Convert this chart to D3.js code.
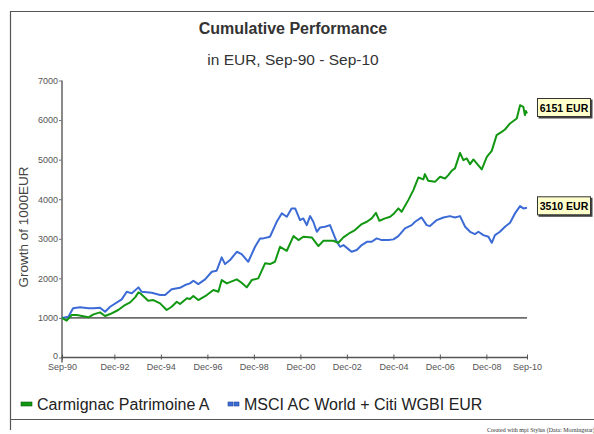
<!DOCTYPE html>
<html>
<head>
<meta charset="utf-8">
<script src="https://cdn.jsdelivr.net/npm/d3@7"></script>
<style>
  body { margin: 0; background: #fff; }
  svg { display: block; font-family: "Liberation Sans", Arial, sans-serif; }
</style>
</head>
<body>
<svg id="chart" width="594" height="434"></svg>
<script>
// series data
const fundDates = ["1990-09-30","1990-12-12","1991-03-01","1991-05-19","1991-11-19","1992-02-07","1992-05-19","1992-08-07","1992-10-25","1993-03-01","1993-06-15","1993-09-04","1993-11-22","1994-01-13","1994-02-10","1994-06-15","1994-09-04","1994-12-19","1995-04-01","1995-06-19","1995-09-07","1995-10-28","1996-02-13","1996-04-01","1996-05-25","1996-08-10","1996-12-22","1997-04-04","1997-06-22","1997-08-13","1997-11-01","1998-04-07","1998-06-22","1998-09-10","1998-11-28","1999-03-10","1999-06-25","1999-09-10","1999-11-28","2000-02-15","2000-06-01","2000-09-13","2000-12-01","2001-02-15","2001-06-28","2001-10-10","2001-12-28","2002-06-01","2002-08-19","2002-11-07","2003-02-19","2003-05-07","2003-08-22","2003-11-10","2004-01-25","2004-04-01","2004-05-25","2004-08-22","2004-11-10","2005-01-01","2005-03-19","2005-05-10","2005-08-22","2005-11-10","2006-01-28","2006-04-15","2006-05-10","2006-07-01","2006-10-15","2007-01-04","2007-03-22","2007-05-13","2007-07-04","2007-08-25","2007-11-13","2008-01-04","2008-02-28","2008-04-19","2008-06-10","2008-08-01","2008-10-19","2009-01-07","2009-03-25","2009-06-10","2009-08-28","2009-10-19","2010-01-07","2010-04-22","2010-06-13","2010-08-04","2010-08-28","2010-09-12","2010-09-30"];
const fundValues = [1000,930,1073,1073,1015,1090,1141,1048,1098,1200,1326,1394,1520,1646,1621,1434,1452,1369,1200,1283,1409,1351,1495,1477,1553,1452,1578,1705,1662,1957,1873,1975,1890,1772,1957,2000,2379,2361,2419,2798,2697,3068,2967,3051,3035,2816,2950,2950,2899,3035,3152,3220,3371,3430,3515,3657,3455,3515,3556,3624,3768,3682,3977,4230,4550,4500,4634,4465,4439,4566,4525,4608,4718,4778,5172,4987,5030,4886,5005,4904,4752,5071,5222,5619,5702,5762,5914,6040,6376,6334,6124,6232,6166];

const benchDates = ["1990-09-30","1991-01-09","1991-03-23","1991-07-10","1991-11-19","1992-02-07","1992-05-19","1992-08-07","1992-10-25","1993-04-25","1993-07-13","1993-10-01","1994-01-13","1994-03-04","1994-08-10","1994-12-19","1995-03-07","1995-06-19","1995-10-28","1996-01-15","1996-04-01","1996-05-25","1996-08-10","1996-11-25","1997-03-10","1997-05-25","1997-08-13","1997-10-04","1997-12-22","1998-04-07","1998-06-22","1998-10-04","1999-01-19","1999-04-07","1999-05-28","1999-09-10","1999-12-25","2000-03-13","2000-06-01","2000-08-15","2000-10-10","2000-12-25","2001-02-15","2001-04-10","2001-06-01","2001-07-22","2001-09-15","2001-11-07","2002-01-22","2002-04-10","2002-06-01","2002-07-25","2002-09-15","2002-11-07","2003-01-28","2003-03-15","2003-06-04","2003-08-22","2003-11-10","2004-01-25","2004-04-13","2004-07-01","2004-10-13","2005-01-01","2005-03-19","2005-07-01","2005-10-15","2005-12-07","2006-03-19","2006-06-07","2006-07-28","2006-11-13","2007-02-25","2007-06-07","2007-08-25","2007-11-13","2008-02-01","2008-04-19","2008-07-04","2008-08-28","2008-11-13","2009-02-01","2009-03-25","2009-05-15","2009-08-01","2009-10-19","2010-01-07","2010-03-25","2010-06-13","2010-08-04","2010-09-30"];
const benchValues = [1000,1030,1242,1268,1242,1242,1258,1157,1283,1470,1662,1621,1772,1662,1636,1578,1578,1722,1760,1831,1873,1939,1856,1975,2167,2192,2530,2361,2462,2672,2614,2419,2798,3010,3010,3051,3429,3641,3556,3768,3768,3472,3514,3346,3573,3430,3177,3288,3303,3346,3136,2924,2798,2841,2732,2672,2715,2841,2924,2924,3010,2967,2967,2985,3068,3263,3346,3430,3539,3346,3321,3472,3539,3573,3539,3573,3303,3177,3119,3177,3093,3051,2899,3093,3177,3303,3404,3641,3826,3768,3783];

const seriesNames = ["Carmignac Patrimoine A", "MSCI AC World + Citi WGBI EUR"];
const endLabels = ["6151 EUR", "3510 EUR"];
const xTickDates = ["1990-09-30","1992-12-31","1994-12-31","1996-12-31","1998-12-31","2000-12-31","2002-12-31","2004-12-31","2006-12-31","2008-12-31","2010-09-30"];
const xTickLabels = ["Sep-90","Dec-92","Dec-94","Dec-96","Dec-98","Dec-00","Dec-02","Dec-04","Dec-06","Dec-08","Sep-10"];
const yTicks = [0,1000,2000,3000,4000,5000,6000,7000];

const colors = ["#129712", "#3c6bd6"];
const parse = d3.timeParse("%Y-%m-%d");

const svg = d3.select("#chart");

// outer frame
svg.append("path")
  .attr("d", "M10.5,430 V11.5 H600")
  .attr("fill", "none")
  .attr("stroke", "#555")
  .attr("stroke-width", 1.2);
svg.append("line")
  .attr("x1", 10).attr("x2", 600).attr("y1", 419.5).attr("y2", 419.5)
  .attr("stroke", "#555").attr("stroke-width", 1.2);

svg.append("text")
  .attr("x", 293).attr("y", 34)
  .attr("text-anchor", "middle")
  .style("font-size", "16px").style("font-weight", "bold").attr("fill", "#333")
  .text("Cumulative Performance");
svg.append("text")
  .attr("x", 293).attr("y", 65)
  .attr("text-anchor", "middle")
  .style("font-size", "15.5px").attr("fill", "#333")
  .text("in EUR, Sep-90 - Sep-10");

const x = d3.scaleTime()
  .domain([parse(xTickDates[0]), parse(xTickDates[xTickDates.length - 1])])
  .range([62, 527]);
const y = d3.scaleLinear().domain([0, 7000]).range([357.5, 80.5]);

// y axis
const yAxis = svg.append("g")
  .attr("transform", "translate(62,0)")
  .call(d3.axisLeft(y).tickValues(yTicks).tickSize(3).tickPadding(1).tickFormat(d3.format("d")));
yAxis.select(".domain").attr("d", `M0,${y(7000)}V${y(0) + 5}`).attr("stroke", "#8a8a8a").attr("stroke-width", 2);
yAxis.selectAll(".tick line").attr("stroke", "#777");
yAxis.selectAll(".tick text").attr("fill", "#555").style("font-size", "9px").style("font-family", "Liberation Sans, Arial");
yAxis.selectAll(".tick").filter(d => d === 0).select("text").attr("dy", "0.1em");

// x axis
const xAxis = svg.append("g")
  .attr("transform", `translate(0,${y(0)})`)
  .call(d3.axisBottom(x)
    .tickValues(xTickDates.map(parse))
    .tickSize(3).tickPadding(3)
    .tickFormat((d, i) => xTickLabels[i]));
xAxis.select(".domain").attr("d", `M${x.range()[0] - 1},0H${x.range()[1]}`).attr("stroke", "#555").attr("stroke-width", 1.5);
xAxis.selectAll(".tick line").attr("stroke", "#555").attr("y1", -3).attr("y2", 2);
xAxis.selectAll(".tick text").attr("fill", "#555").style("font-size", "9px").style("font-family", "Liberation Sans, Arial");

// 1000 reference line
svg.append("line")
  .attr("x1", x.range()[0]).attr("x2", x.range()[1])
  .attr("y1", y(1000)).attr("y2", y(1000))
  .attr("stroke", "#000").attr("stroke-width", 1);

const line = d3.line()
  .x(d => x(d.date))
  .y(d => y(d.value));

const series = [
  fundDates.map((d, i) => ({ date: parse(d), value: fundValues[i] })),
  benchDates.map((d, i) => ({ date: parse(d), value: benchValues[i] }))
];

// draw benchmark first, fund on top
[1, 0].forEach(i => {
  svg.append("path")
    .datum(series[i])
    .attr("fill", "none")
    .attr("stroke", colors[i])
    .attr("stroke-width", 2)
    .attr("stroke-linejoin", "round")
    .attr("d", line);
});

// end labels
series.forEach((s, i) => {
  const last = s[s.length - 1];
  const cy = y(last.value) - (i === 0 ? 6 : 2);
  const g = svg.append("g").attr("transform", `translate(537,${cy - 9.5})`);
  g.append("rect").attr("x", 1.5).attr("y", 1.5).attr("width", 54).attr("height", 19).attr("fill", "#444");
  g.append("rect").attr("x", 0.5).attr("y", 0.5).attr("width", 53).attr("height", 18)
    .attr("fill", "#ffffcc").attr("stroke", "#333").attr("stroke-width", 1);
  g.append("text").attr("x", 27).attr("y", 13.5).attr("text-anchor", "middle")
    .style("font-size", "10.5px").style("font-weight", "bold").attr("fill", "#000")
    .text(endLabels[i]);
});

// y axis title
svg.append("text")
  .attr("transform", `translate(28,${(y(0) + y(7000)) / 2 + 8}) rotate(-90)`)
  .attr("text-anchor", "middle")
  .style("font-size", "13.5px").attr("fill", "#444")
  .text("Growth of 1000EUR");

// legend
const legendX = [21, 228];
seriesNames.forEach((name, i) => {
  const g = svg.append("g").attr("transform", `translate(${legendX[i]},404)`);
  if (i === 0) {
    g.append("rect").attr("x", 0).attr("y", -2).attr("width", 11).attr("height", 4)
      .attr("fill", colors[0]).attr("stroke", "#0b5e0b").attr("stroke-width", 0.6);
  } else {
    [0, 6].forEach(dx => {
      g.append("rect").attr("x", dx).attr("y", -2).attr("width", 5).attr("height", 4)
        .attr("fill", colors[1]).attr("stroke", "#24479a").attr("stroke-width", 0.6);
    });
  }
  g.append("text").attr("x", 16).attr("y", 6)
    .style("font-size", "16px").attr("fill", "#222")
    .text(name);
});

// credit line
svg.append("text")
  .attr("x", 487).attr("y", 432)
  .style("font-size", "6px").style("font-family", "Liberation Serif, serif").attr("fill", "#333")
  .text("Created with mpi Stylus (Data: Morningstar)");
</script>
</body>
</html>
